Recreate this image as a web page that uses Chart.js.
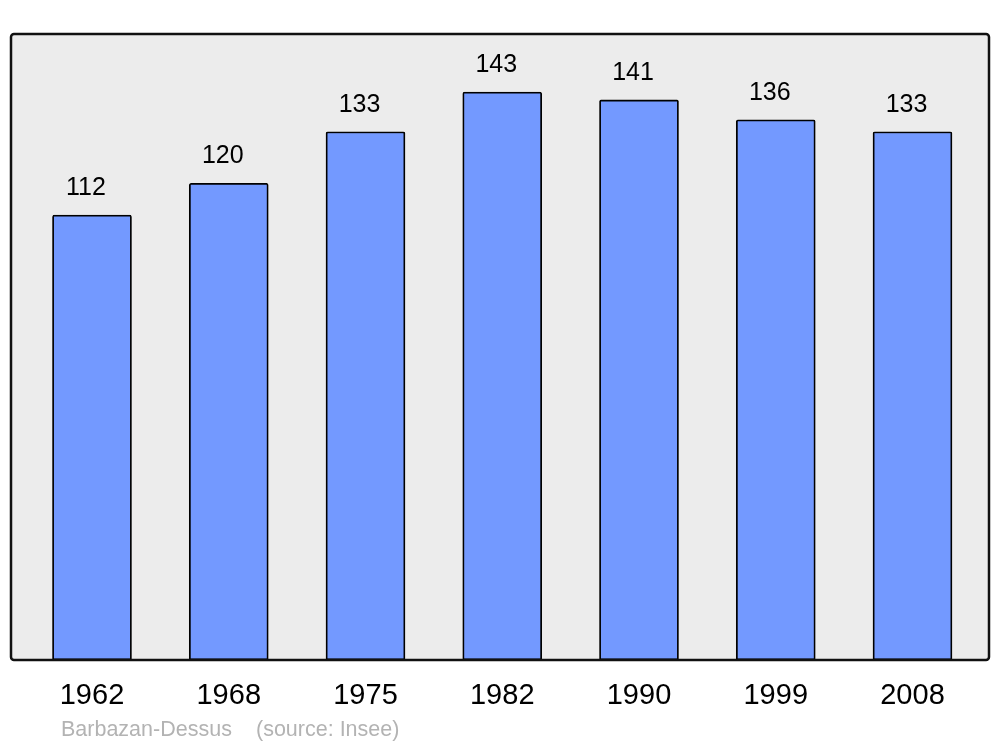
<!DOCTYPE html>
<html>
<head>
<meta charset="utf-8">
<script src="https://cdn.jsdelivr.net/npm/chart.js@4/dist/chart.umd.min.js"></script>
<style>
  html, body { margin: 0; padding: 0; background: #ffffff; }
  #wrap { width: 1000px; height: 747px; position: relative; }
</style>
</head>
<body>
<div id="wrap"><canvas id="c"></canvas></div>
<script>
const years = ['1962', '1968', '1975', '1982', '1990', '1999', '2008'];
const population = [112, 120, 133, 143, 141, 136, 133];
const placeName = 'Barbazan-Dessus';
const sourceText = '(source: Insee)';

const FONT = '"Liberation Sans", Arial, sans-serif';

const framePlugin = {
  id: 'frame',
  beforeDraw(chart) {
    const { ctx, chartArea: a } = chart;
    ctx.save();
    ctx.fillStyle = '#ececec';
    ctx.beginPath();
    ctx.roundRect(a.left, a.top, a.right - a.left, a.bottom - a.top, 3);
    ctx.fill();
    ctx.restore();
  },
  afterDatasetsDraw(chart) {
    const { ctx, chartArea: a } = chart;
    ctx.save();
    ctx.strokeStyle = '#111111';
    ctx.lineWidth = 2.5;
    ctx.beginPath();
    ctx.roundRect(a.left, a.top, a.right - a.left, a.bottom - a.top, 3);
    ctx.stroke();
    // value labels
    const meta = chart.getDatasetMeta(0);
    ctx.fillStyle = '#000000';
    ctx.font = '25px ' + FONT;
    ctx.textAlign = 'center';
    ctx.textBaseline = 'middle';
    meta.data.forEach((bar, i) => {
      ctx.fillText(String(population[i]), bar.x - 6, bar.y - 27);
    });
    // footer
    ctx.fillStyle = '#b3b3b3';
    ctx.font = '21.5px ' + FONT;
    ctx.textAlign = 'left';
    ctx.textBaseline = 'middle';
    ctx.fillText(placeName, a.left + 50, a.bottom + 70);
    ctx.fillText(sourceText, a.left + 245, a.bottom + 70);
    ctx.restore();
  }
};

new Chart(document.getElementById('c'), {
  type: 'bar',
  data: {
    datasets: [{
      data: population.map((v, i) => ({ x: i, y: v })),
      backgroundColor: '#7399ff',
      borderColor: '#000000',
      borderWidth: 1.8,
      borderRadius: { topLeft: 2, topRight: 2, bottomLeft: 0, bottomRight: 0 },
      borderSkipped: false,
      barThickness: 79
    }]
  },
  options: {
    responsive: true,
    maintainAspectRatio: false,
    animation: false,
    layout: { padding: { top: 34, left: 11, right: 11, bottom: 0 } },
    plugins: { legend: { display: false }, tooltip: { enabled: false } },
    scales: {
      x: {
        type: 'linear',
        offset: false,
        bounds: 'ticks',
        min: -0.5923,
        max: 6.5594,
        grid: { display: false, drawTicks: false, offset: false },
        border: { display: false },
        afterBuildTicks(scale) { scale.ticks = years.map((_, i) => ({ value: i })); },
        afterFit(scale) { scale.height = 87; },
        ticks: {
          autoSkip: false,
          maxRotation: 0,
          padding: 19,
          color: '#000000',
          font: { family: FONT, size: 29 },
          callback: (v) => years[v] !== undefined ? years[v] : ''
        }
      },
      y: {
        display: false,
        min: 0,
        max: 157.6
      }
    }
  },
  plugins: [framePlugin]
});
</script>
</body>
</html>
